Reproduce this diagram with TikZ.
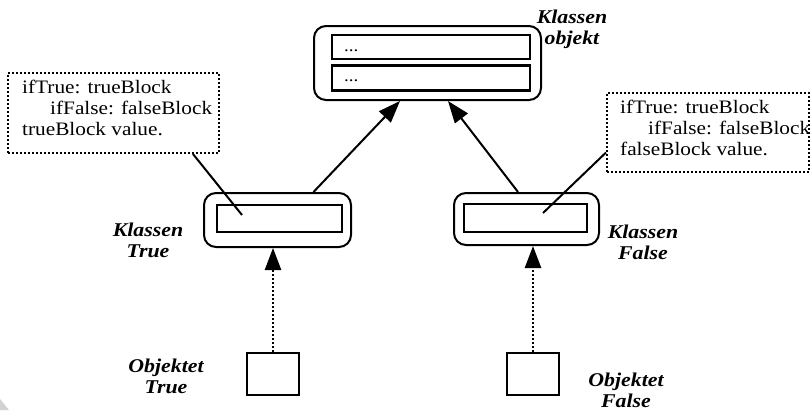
\documentclass[tikz,border=0pt]{standalone}
\usepackage{fontspec}
\usepackage{graphicx}
\setmainfont{Liberation Serif}
\usetikzlibrary{arrows.meta}
\newcommand{\wx}[1]{\scalebox{1.12}[1]{#1}}
\begin{document}
\begin{tikzpicture}[x=1pt,y=-1pt,
  frame/.style={draw,line width=2pt,rounded corners=12pt,inner sep=0pt},
  slot/.style={draw,line width=2.5pt,inner sep=0pt},
  objbox/.style={draw,line width=2.5pt,inner sep=0pt,minimum width=52pt,minimum height=42pt},
  note/.style={draw,line width=2pt,dash pattern=on 2pt off 2pt,inner sep=0pt},
  notetext/.style={align=left,inner sep=0pt,font=\fontsize{19}{21}\selectfont},
  dots/.style={anchor=west,inner sep=0pt,font=\fontsize{17}{17}\selectfont},
  lbl/.style={align=center,inner sep=0pt,font=\fontsize{19.5}{21}\selectfont\bfseries\itshape},
  arr/.style={line width=2pt,-{Triangle[length=22pt,width=16pt]}},
  darr/.style={line width=2.5pt,dash pattern=on 2pt off 2pt,-{Triangle[length=22pt,width=16pt]}},
  link/.style={line width=2pt}]
\useasboundingbox (0,0) rectangle (811,410);
\fill[gray!35] (0,399) -- (0,410) -- (9,410) -- cycle;

% class object
\node[frame,minimum width=227pt,minimum height=74pt] (ko) at (427.5,63) {};
\node[slot,minimum width=198pt,minimum height=24pt] (s1) at (431,47) {};
\node[slot,minimum width=198pt,minimum height=25pt] (s2) at (431,78) {};
\node[dots] (d1) at (344,51) {\wx{...}};
\node[dots] (d2) at (344,81) {\wx{...}};
\node[lbl] (lko) at (572,29) {\wx{Klassen}\\\wx{objekt}};

% class True
\node[frame,minimum width=147pt,minimum height=54pt] (kt) at (277.5,220) {};
\node[slot,minimum width=125pt,minimum height=27pt] (ktin) at (279.5,218.5) {};
\node[lbl] (lkt) at (148,240) {\wx{Klassen}\\\wx{True}};

% class False
\node[frame,minimum width=145pt,minimum height=52pt] (kf) at (526.5,219) {};
\node[slot,minimum width=123pt,minimum height=28pt] (kfin) at (525.5,218) {};
\node[lbl] (lkf) at (643,242) {\wx{Klassen}\\\wx{False}};

% objects
\node[objbox] (ot) at (273,374) {};
\node[objbox] (of) at (533,374) {};
\node[lbl] (lot) at (166,376) {\wx{Objektet}\\\wx{True}};
\node[lbl] (lof) at (626,390) {\wx{Objektet}\\\wx{False}};

% notes
\node[note,minimum width=211pt,minimum height=80pt] (cL) at (113.5,113) {};
\node[notetext,anchor=north west] (tL) at (22,80) {\wx{ifTrue: trueBlock}\\\hspace*{28pt}\wx{ifFalse: falseBlock}\\\wx{trueBlock value.}};
\node[note,minimum width=202pt,minimum height=79pt] (cR) at (708,132.5) {};
\node[notetext,anchor=north west] (tR) at (620,100) {\wx{ifTrue: trueBlock}\\\hspace*{28pt}\wx{ifFalse: falseBlock}\\\wx{falseBlock value.}};

% links
\coordinate (pT) at (242,215);
\coordinate (pF) at (543,213);
\draw[link] ([xshift=79.5pt]cL.south) -- (pT);
\draw[link] ([yshift=-20pt]cR.west) -- (pF);

% arrows
\draw[arr] ([xshift=36pt]kt.north) -- ([xshift=-27.5pt]ko.south);
\draw[arr] ([xshift=-8.5pt]kf.north) -- ([xshift=20.5pt]ko.south);
\draw[darr] (ot.north) -- (ot.north |- kt.south);
\draw[darr] (of.north) -- (of.north |- kf.south);
\end{tikzpicture}
\end{document}
